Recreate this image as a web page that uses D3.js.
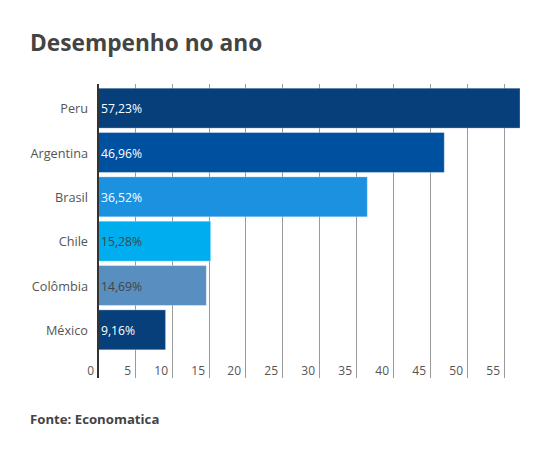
<!DOCTYPE html>
<html><head><meta charset="utf-8">
<script src="https://cdn.jsdelivr.net/npm/d3@7"></script>
<style>body{margin:0;background:#fff;font-family:"Open Sans",sans-serif;}</style>
</head><body><svg id="c" width="550" height="460"></svg>
<script>
const categories = ["Peru","Argentina","Brasil","Chile","Colômbia","México"];
const values = [57.23, 46.96, 36.52, 15.28, 14.69, 9.16];
const barColors = ["#063f7a","#0050a0","#1b91e0","#00aeef","#588fc0","#063f7a"];
const labelColors = ["#ffffff","#ffffff","#ffffff","#444444","#444444","#ffffff"];
const tickValues = [0,5,10,15,20,25,30,35,40,45,50,55];
const title = "Desempenho no ano";
const source = "Fonte: Economatica";

const svg = d3.select("#c");
const x = d3.scaleLinear().domain([0, 57.23]).range([98, 520]);
const y = d3.scaleBand().domain(categories).range([86, 352]).paddingInner(0.1).paddingOuter(0.05);

svg.append("text").attr("x",30).attr("y",51).text(title)
  .attr("font-size",22.7).attr("font-weight","bold").attr("fill","#444");

// gridlines
svg.append("g").selectAll("line").data(tickValues.filter(d=>d>0)).join("line")
  .attr("x1",d=>Math.round(x(d))+0.5).attr("x2",d=>Math.round(x(d))+0.5).attr("y1",84).attr("y2",378)
  .attr("stroke","#9a9a9a").attr("stroke-width",1);

// tick labels
svg.append("g").selectAll("text").data(tickValues).join("text")
  .attr("x",d=>Math.round(x(d))-4).attr("y",375).attr("text-anchor","end")
  .attr("font-size",12).attr("fill","#555").text(d=>d);

// bars
svg.append("g").selectAll("rect").data(values).join("rect")
  .attr("x",x(0)).attr("y",(d,i)=>y(categories[i]))
  .attr("width",d=>x(d)-x(0)).attr("height",y.bandwidth())
  .attr("fill",(d,i)=>barColors[i])
  .attr("stroke","rgba(255,255,255,0.3)").attr("stroke-width",1);

// category labels
svg.append("g").selectAll("text").data(categories).join("text")
  .attr("x",88).attr("y",d=>y(d)+y.bandwidth()/2+5).attr("text-anchor","end")
  .attr("font-size",12.7).attr("fill","#555").text(d=>d);

// value labels
svg.append("g").selectAll("text").data(values).join("text")
  .attr("x",101).attr("y",(d,i)=>y(categories[i])+y.bandwidth()/2+5)
  .attr("font-size",12.2).attr("fill",(d,i)=>labelColors[i])
  .text(d=>d.toFixed(2).replace(".",",")+"%");

// axis line
svg.append("line").attr("x1",98).attr("x2",98).attr("y1",84).attr("y2",378)
  .attr("stroke","#333").attr("stroke-width",2);

svg.append("text").attr("x",30).attr("y",424).text(source)
  .attr("font-size",13.2).attr("font-weight","bold").attr("fill","#444");
</script></body></html>
